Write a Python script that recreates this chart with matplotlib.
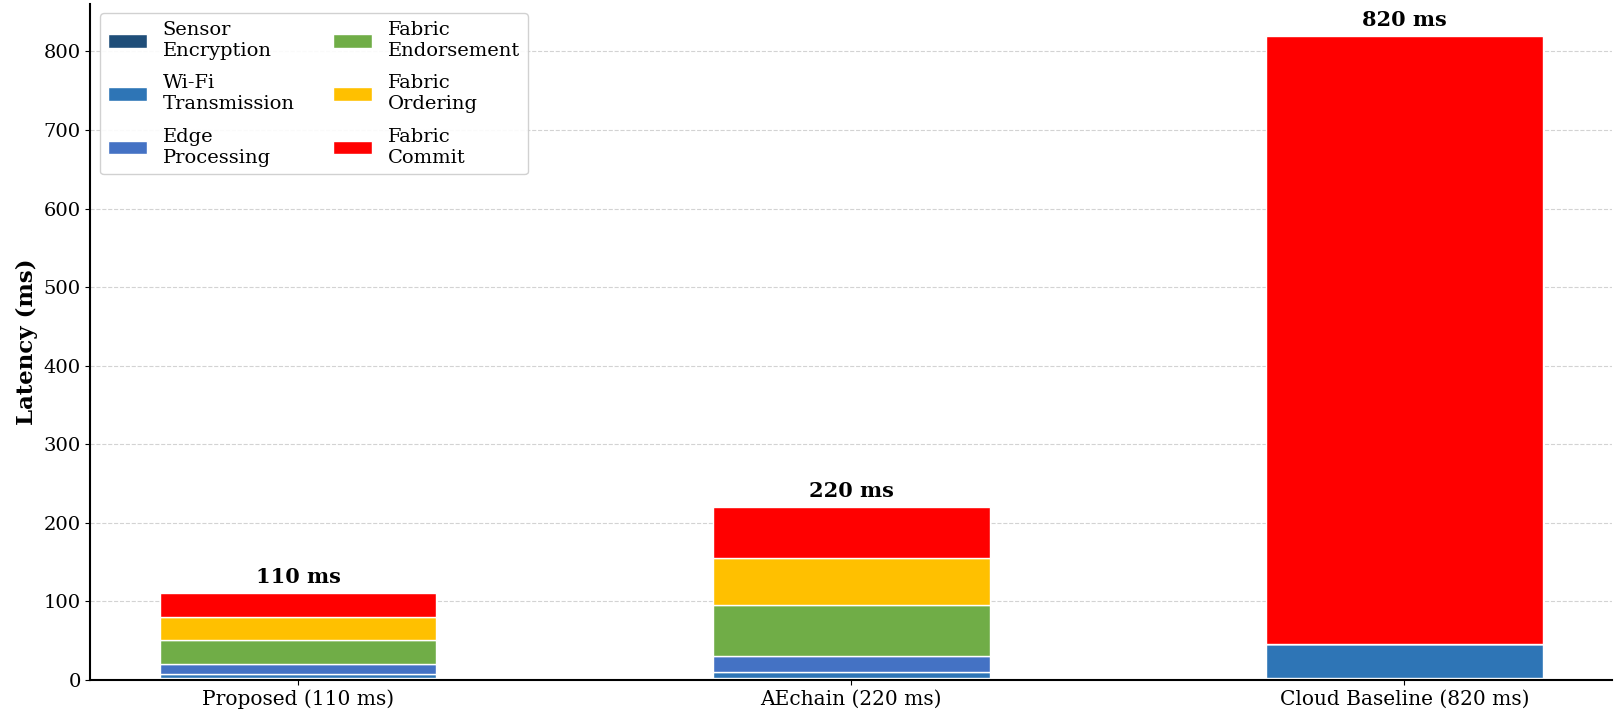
import matplotlib
matplotlib.use("Agg")
import matplotlib.pyplot as plt
import numpy as np

plt.rcParams['font.family'] = 'DejaVu Serif'

systems = ['Proposed (110 ms)', 'AEchain (220 ms)', 'Cloud Baseline (820 ms)']
totals = [110, 220, 820]

stages = ['Sensor\nEncryption', 'Wi-Fi\nTransmission', 'Edge\nProcessing',
          'Fabric\nEndorsement', 'Fabric\nOrdering', 'Fabric\nCommit']
sensor_enc = [2, 2, 2]
wifi_tx = [5, 8, 43]
edge_proc = [13, 20, 0]
endorsement = [30, 65, 0]
ordering = [30, 60, 0]
commit = [30, 65, 775]
colors = ['#1F4E79', '#2E75B6', '#4472C4', '#70AD47', '#FFC000', '#FF0000']

fig, ax = plt.subplots(figsize=(16.16, 7.2), dpi=100)
x = np.arange(len(systems))
bottom = np.zeros(len(systems))
for vals, lab, c in zip([sensor_enc, wifi_tx, edge_proc, endorsement, ordering, commit], stages, colors):
    ax.bar(x, vals, 0.5, bottom=bottom, label=lab, color=c, edgecolor='white', linewidth=1)
    bottom += np.array(vals)

for xi, t in zip(x, totals):
    ax.text(xi, t + 8, f'{t} ms', ha='center', va='bottom', fontsize=15, fontweight='bold')

ax.set_xticks(x)
ax.set_xticklabels(systems, fontsize=14.5)
ax.tick_params(axis='y', labelsize=14)
ax.set_ylabel('Latency (ms)', fontsize=16.5, fontweight='bold')
ax.yaxis.grid(True, linestyle='--', color='#c8c8c8', alpha=0.8)
ax.set_axisbelow(True)
ax.spines['top'].set_visible(False)
ax.spines['right'].set_visible(False)
ax.spines['left'].set_linewidth(1.5)
ax.spines['bottom'].set_linewidth(1.5)
ax.legend(loc='upper left', ncol=2, fontsize=14, framealpha=0.9, labelspacing=0.75)

fig.subplots_adjust(left=0.056, right=0.9975, bottom=0.056, top=0.995)
fig.savefig('out.png', dpi=100)
